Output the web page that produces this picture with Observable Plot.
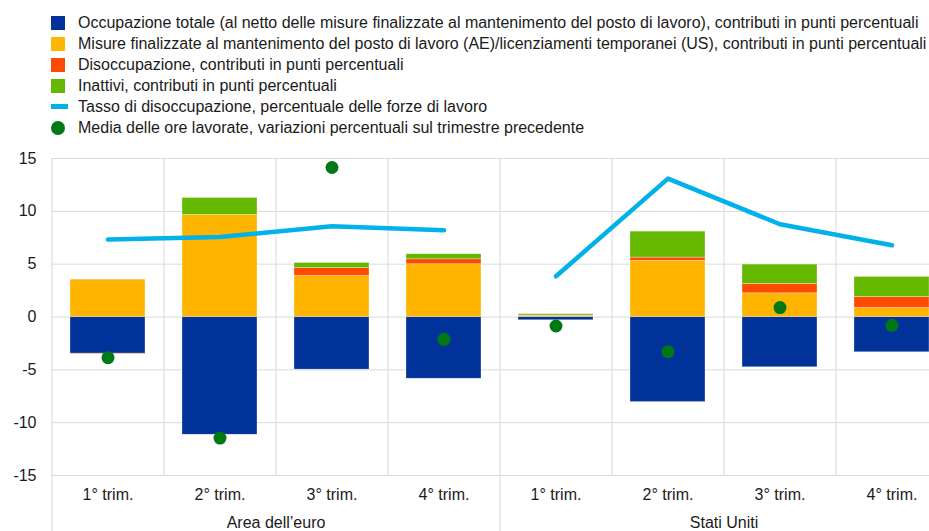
<!DOCTYPE html>
<html>
<head>
<meta charset="utf-8">
<script src="https://cdn.jsdelivr.net/npm/d3@7"></script>
<script src="https://cdn.jsdelivr.net/npm/@observablehq/plot@0.6"></script>
<style>
  body { margin: 0; background: #fff; font-family: "Liberation Sans", Arial, sans-serif; color: #1a1a1a; }
  #legend { height: 140px; box-sizing: border-box; padding-top: 12px; }
  .row { position: relative; height: 21px; line-height: 21px; font-size: 16px; padding-left: 78px; white-space: nowrap; }
  .sw { position: absolute; left: 51px; top: 3.5px; width: 14px; height: 14px; }
  .ln { position: absolute; left: 51px; top: 8px; width: 17px; height: 5px; }
  .dt { position: absolute; left: 51px; top: 3.5px; width: 14px; height: 14px; border-radius: 50%; }
  svg { display: block; }
</style>
</head>
<body>
<div id="legend"></div>
<div id="chart"></div>
<script>
const regions = ["Area dell’euro", "Stati Uniti"];
const quarters = ["1° trim.", "2° trim.", "3° trim.", "4° trim."];
const occupazione   = [-3.47, -11.14, -4.98, -5.84, -0.31, -8.05, -4.76, -3.34];
const misure        = [3.54, 9.66, 3.88, 4.99, 0.10, 5.31, 2.24, 0.85];
const disoccupazione= [-0.06, 0.00, 0.76, 0.47, 0.05, 0.31, 0.89, 1.04];
const inattivi      = [0.00, 1.60, 0.47, 0.48, 0.12, 2.46, 1.83, 1.90];
const tasso         = [7.33, 7.58, 8.59, 8.21, 3.85, 13.10, 8.78, 6.79];
const ore           = [-3.85, -11.46, 14.15, -2.11, -0.85, -3.28, 0.89, -0.79];
const yTicks = [-15, -10, -5, 0, 5, 10, 15];

const seriesNames = [
  "Occupazione totale (al netto delle misure finalizzate al mantenimento del posto di lavoro), contributi in punti percentuali",
  "Misure finalizzate al mantenimento del posto di lavoro (AE)/licenziamenti temporanei (US), contributi in punti percentuali",
  "Disoccupazione, contributi in punti percentuali",
  "Inattivi, contributi in punti percentuali"
];
const lineName = "Tasso di disoccupazione, percentuale delle forze di lavoro";
const dotName = "Media delle ore lavorate, variazioni percentuali sul trimestre precedente";
const colors = ["#003299", "#FFB400", "#FF4B00", "#65B800"];
const lineColor = "#00B1EA";
const dotColor = "#007816";

// legend
const legend = document.getElementById("legend");
seriesNames.forEach((n, i) => {
  legend.insertAdjacentHTML("beforeend", `<div class="row"><span class="sw" style="background:${colors[i]}"></span>${n}</div>`);
});
legend.insertAdjacentHTML("beforeend", `<div class="row"><span class="ln" style="background:${lineColor}"></span>${lineName}</div>`);
legend.insertAdjacentHTML("beforeend", `<div class="row"><span class="dt" style="background:${dotColor}"></span>${dotName}</div>`);

// data tables
const cats = [];
regions.forEach((r, ri) => quarters.forEach((q, qi) => cats.push({key: `${ri}-${qi}`, region: r, quarter: q, i: ri * 4 + qi})));
const bars = [];
const seriesVals = [occupazione, misure, disoccupazione, inattivi];
cats.forEach(c => seriesVals.forEach((vals, s) => bars.push({key: c.key, series: seriesNames[s], value: vals[c.i]})));
const pts = cats.map(c => ({key: c.key, region: c.region, tasso: tasso[c.i], ore: ore[c.i]}));
const keyLabel = Object.fromEntries(cats.map(c => [c.key, c.quarter]));

const W = 929, H = 391;
const left = 51, right = 947;
const step = (right - left) / cats.length;
const mB = 56;

const chart = Plot.plot({
  width: W,
  height: H,
  marginTop: 18,
  marginBottom: mB,
  marginLeft: left,
  marginRight: 0,
  style: {fontFamily: "Liberation Sans, Arial, sans-serif", fontSize: "16px", color: "#1a1a1a", background: "#fff"},
  x: {domain: cats.map(c => c.key), range: [left, right], paddingInner: 1/3, paddingOuter: 1/6, align: 0.5, label: null},
  y: {domain: [-15, 15], label: null},
  color: {domain: seriesNames, range: colors},
  marks: [
    Plot.ruleY(yTicks, {stroke: "#d9d9d9", strokeWidth: 1}),
    Plot.ruleX(cats.filter(c => c.quarter !== quarters[0]).map(c => c.key), {x: d => d, dx: -step / 2, stroke: "#d9d9d9", strokeWidth: 1}),
    Plot.ruleX(cats.filter(c => c.quarter === quarters[0]).map(c => c.key), {x: d => d, dx: -step / 2, stroke: "#d9d9d9", strokeWidth: 1, insetBottom: -mB}),
    Plot.barY(bars, Plot.stackY({x: "key", y: "value", fill: "series", order: seriesNames, stroke: "#ffffff", strokeOpacity: 0.5, strokeWidth: 0.6})),
    Plot.line(pts, {x: "key", y: "tasso", z: "region", stroke: lineColor, strokeWidth: 4.5, strokeLinecap: "round", strokeLinejoin: "round"}),
    Plot.dot(pts, {x: "key", y: "ore", r: 6.5, fill: dotColor}),
    Plot.axisY({ticks: yTicks, tickSize: 0, tickPadding: 15, tickFormat: d => String(d), fontSize: 16}),
    Plot.axisX({tickSize: 0, tickPadding: 13, tickFormat: k => keyLabel[k], fontSize: 16}),
    Plot.text(regions.map((r, ri) => ({key: `${ri}-1`, label: r})), {x: "key", text: "label", dx: step / 2, frameAnchor: "bottom", dy: 52, fontSize: 16, fill: "#1a1a1a"})
  ]
});
document.getElementById("chart").appendChild(chart);
</script>
</body>
</html>
